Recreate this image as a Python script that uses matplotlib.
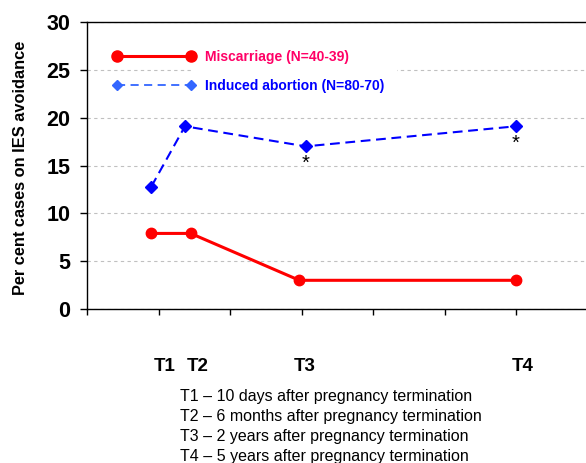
import matplotlib
matplotlib.use("Agg")
import matplotlib.pyplot as plt
from matplotlib.lines import Line2D
from matplotlib.patches import Rectangle

plt.rcParams['font.family'] = ['Liberation Sans', 'DejaVu Sans']

# values
time_points = ['T1', 'T2', 'T3', 'T4']
misc_x = [0.9, 1.45, 2.97, 6.0]
misc_y = [7.9, 7.9, 3.0, 3.0]
abort_x = [0.9, 1.37, 3.06, 6.0]
abort_y = [12.8, 19.1, 17.0, 19.1]
star_idx = [2, 3]          # abortion points marked with *
label_x = [1.08, 1.55, 3.04, 6.09]
misc_label = 'Miscarriage (N=40-39)'
abort_label = 'Induced abortion (N=80-70)'
footnotes = ['T1 \u2013 10 days after pregnancy termination',
             'T2 \u2013 6 months after pregnancy termination',
             'T3 \u2013 2 years after pregnancy termination',
             'T4 \u2013 5 years after pregnancy termination']

RED = '#FF0000'
BLUE = '#0000FF'

fig = plt.figure(figsize=(5.86, 4.63), dpi=100)
ax = fig.add_axes([87 / 586, 1 - 309 / 463, 500.5 / 586, 287 / 463])

ax.set_xlim(0, 7)
ax.set_ylim(0, 30)
ax.set_xticks(range(8))
ax.set_xticklabels([])
ax.set_yticks(range(0, 31, 5))
ax.tick_params(axis='y', labelsize=15.5, length=5, width=1, pad=7)
ax.tick_params(axis='x', length=4.3, width=1)
for lab in ax.get_yticklabels():
    lab.set_fontweight('bold')
ax.spines['right'].set_visible(False)
for s in ['left', 'bottom', 'top']:
    ax.spines[s].set_linewidth(1.0)

ax.yaxis.grid(True, color='#C0C0C0', linestyle=(0, (3, 3)), linewidth=0.8)
ax.set_axisbelow(True)

# white box behind legend text
ax.add_patch(Rectangle((0.212, 0.74), 0.407, 0.2, transform=ax.transAxes,
                       facecolor='white', edgecolor='none', zorder=1.5))

ax.plot(misc_x, misc_y, color=RED, lw=2.2, marker='o', ms=7.5, zorder=3)
ax.plot(abort_x, abort_y, color=BLUE, lw=1.5, linestyle=(0, (4.7, 2.7)),
        marker='D', ms=6, zorder=3)

for i in star_idx:
    ax.annotate('*', (abort_x[i], abort_y[i]), xytext=(0, -12),
                textcoords='offset points', ha='center', va='center',
                fontsize=14.5, color='black')

handles = [Line2D([], [], color=RED, lw=2.2, marker='o', ms=8),
           Line2D([], [], color='#3366FF', lw=1.3, linestyle=(0, (4.5, 3)),
                  marker='D', ms=4.6)]
leg = ax.legend(handles, [misc_label, abort_label], loc='upper left',
                bbox_to_anchor=(0.052, 0.904), frameon=False, numpoints=2,
                handlelength=5.9, handletextpad=0.72, labelspacing=1.1,
                borderpad=0, borderaxespad=0,
                prop={'size': 10, 'weight': 'bold'})
leg.get_texts()[0].set_color('#FF0066')
leg.get_texts()[1].set_color(BLUE)

ax.set_ylabel('Per cent cases on IES avoidance', fontsize=11.8, fontweight='bold')
ax.yaxis.set_label_coords(-0.118, 0.49)

for lx, name in zip(label_x, time_points):
    ax.text(lx, -0.202, name, transform=ax.get_xaxis_transform(),
            ha='center', va='center', fontsize=13.5, fontweight='bold')

for k, line in enumerate(footnotes):
    fig.text(180 / 586, 1 - (397 + 20 * k) / 463, line, ha='left',
             va='center', fontsize=11.5)

fig.savefig('out.png', dpi=100)
